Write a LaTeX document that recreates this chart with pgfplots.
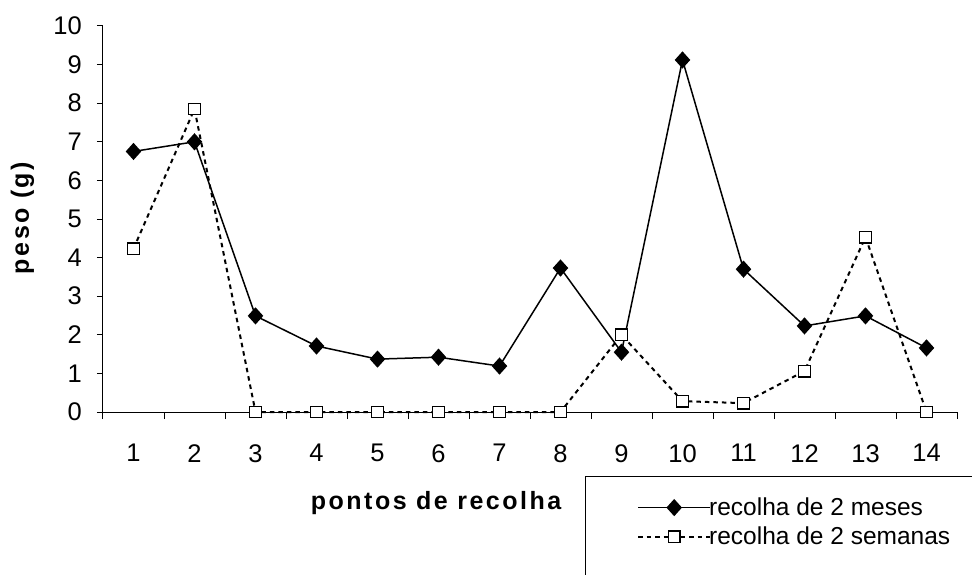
\documentclass[border=0pt]{standalone}
\usepackage{fontspec}
\setmainfont{Liberation Sans}
\usepackage{pgfplots}
\pgfplotsset{compat=1.18}

\begin{document}
\begin{tikzpicture}[x=1pt,y=1pt]
\path[use as bounding box] (0,0) rectangle (972,574);
\clip (0,0) rectangle (972,574);
\begin{axis}[
	at={(103pt,162pt)},
	anchor=south west,
	scale only axis,
	width=854pt,
	height=386pt,
	xmin=0.5, xmax=14.5,
	ymin=0, ymax=10,
	axis x line*=bottom,
	axis y line*=left,
	axis line style={-, line width=1pt},
	xtick={1,...,14},
	ytick={0,...,10},
	minor xtick={0.5,1.5,...,14.5},
	major x tick style={draw=none},
	tick align=outside,
	major tick length=6pt,
	minor tick length=7pt,
	tick style={line width=1pt, black},
	/pgf/number format/assume math mode=true,
	tick label style={font=\fontsize{25.5}{30}\selectfont},
	yticklabel style={inner sep=0pt, xshift=-15pt},
	xticklabel style={inner sep=0pt, yshift=-26pt},
	xlabel={\addfontfeatures{LetterSpace=10}\bfseries pontos de recolha},
	ylabel={\addfontfeatures{LetterSpace=10}\bfseries peso (g)},
	label style={font=\fontsize{25}{30}\selectfont},
	xlabel style={at={(axis description cs:0.39,-0.2513)}, anchor=base, inner sep=0pt},
	ylabel style={at={(axis description cs:-0.0867,0.5026)}, anchor=base, inner sep=0pt},
	legend style={at={(axis description cs:0.6253,-0.217)}, anchor=north west,
		draw=none, fill=none, inner sep=0pt, row sep=6pt, column sep=-4pt,
		nodes={inner sep=2pt}, font=\fontsize{24.5}{29}\selectfont},
	legend cell align=left,
	legend image code/.code={
		\draw[mark repeat=2, mark phase=2, #1] plot coordinates {(0pt,0pt) (36pt,0pt) (72pt,0pt)};
	},
	clip=false,
]
\addplot[black, line width=1.5pt, mark=diamond*, mark size=7.5pt,
	mark options={solid, xscale=1.2, fill=black}] coordinates {
	(1,6.75) (2,7.0) (3,2.49) (4,1.71) (5,1.37) (6,1.42) (7,1.19)
	(8,3.73) (9,1.55) (10,9.12) (11,3.7) (12,2.23) (13,2.49) (14,1.66)
};
\addlegendentry{recolha de 2 meses}
\addplot[black, line width=2pt, dash pattern=on 4.5pt off 4pt, mark=square*, mark size=5.8pt,
	mark options={solid, fill=white, line width=1.3pt}] coordinates {
	(1,4.23) (2,7.85) (3,0) (4,0) (5,0) (6,0) (7,0)
	(8,0) (9,2.0) (10,0.28) (11,0.23) (12,1.06) (13,4.53) (14,0)
};
\addlegendentry{recolha de 2 semanas}
\end{axis}
\draw[line width=1pt] (585,98) rectangle (1000,-20);
\end{tikzpicture}
\end{document}
